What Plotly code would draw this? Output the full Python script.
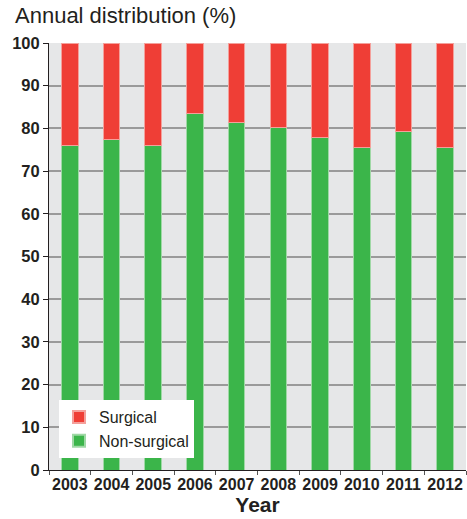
import plotly.graph_objects as go

years = ["2003", "2004", "2005", "2006", "2007", "2008", "2009", "2010", "2011", "2012"]
non_surgical = [75.9, 77.5, 76.1, 83.5, 81.4, 80.2, 77.9, 75.5, 79.2, 75.5]
surgical = [24.1, 22.5, 23.9, 16.5, 18.6, 19.8, 22.1, 24.5, 20.8, 24.5]
y_ticks = [0, 10, 20, 30, 40, 50, 60, 70, 80, 90, 100]

FONT = "Liberation Sans, Arial, sans-serif"
TXT = "#231f20"

fig = go.Figure()
fig.add_trace(go.Bar(x=years, y=non_surgical, name="Non-surgical",
                     marker=dict(color="#3bb54a", line=dict(color="#9fd8a5", width=1))))
fig.add_trace(go.Bar(x=years, y=surgical, name="Surgical",
                     marker=dict(color="#ef3e36", line=dict(color="#f4a09b", width=1))))

fig.update_layout(
    width=467, height=519,
    barmode="stack", bargap=0.6,
    margin=dict(l=49, r=1, t=43, b=49, autoexpand=False),
    paper_bgcolor="white", plot_bgcolor="#e6e7e8",
    font=dict(family=FONT, color=TXT, size=15),
    showlegend=True,
    legend=dict(x=0.024, y=0.028, xanchor="left", yanchor="bottom",
                bgcolor="white", traceorder="reversed",
                font=dict(size=16, color=TXT), itemsizing="constant",
                itemwidth=30, tracegroupgap=0, borderwidth=0),
    annotations=[dict(text="Annual distribution (%)", xref="paper", yref="paper",
                      x=-0.087, y=1.03, xanchor="left", yanchor="bottom",
                      showarrow=False,
                      font=dict(size=22, color=TXT, family=FONT))],
)
fig.update_xaxes(
    type="category", showgrid=False,
    showline=True, linecolor="#231f20", linewidth=1,
    ticks="outside", tickson="boundaries", ticklen=4, tickcolor="#555",
    tickangle=0,
    tickfont=dict(size=16, color=TXT, family=FONT, weight=600),
    title=dict(text="Year", font=dict(size=21, color=TXT, weight="bold"), standoff=5),
)
fig.update_yaxes(
    range=[0, 100], tickvals=y_ticks,
    showgrid=True, gridcolor="#9a9a9a", gridwidth=1.5,
    showline=True, linecolor="#231f20", linewidth=1,
    ticks="outside", ticklen=5, tickcolor="#231f20",
    tickfont=dict(size=16.5, color=TXT, family=FONT, weight=600),
    zeroline=False,
)

fig.write_html("out.html", config={"displayModeBar": False},
               post_script="document.body.style.margin='0';")
